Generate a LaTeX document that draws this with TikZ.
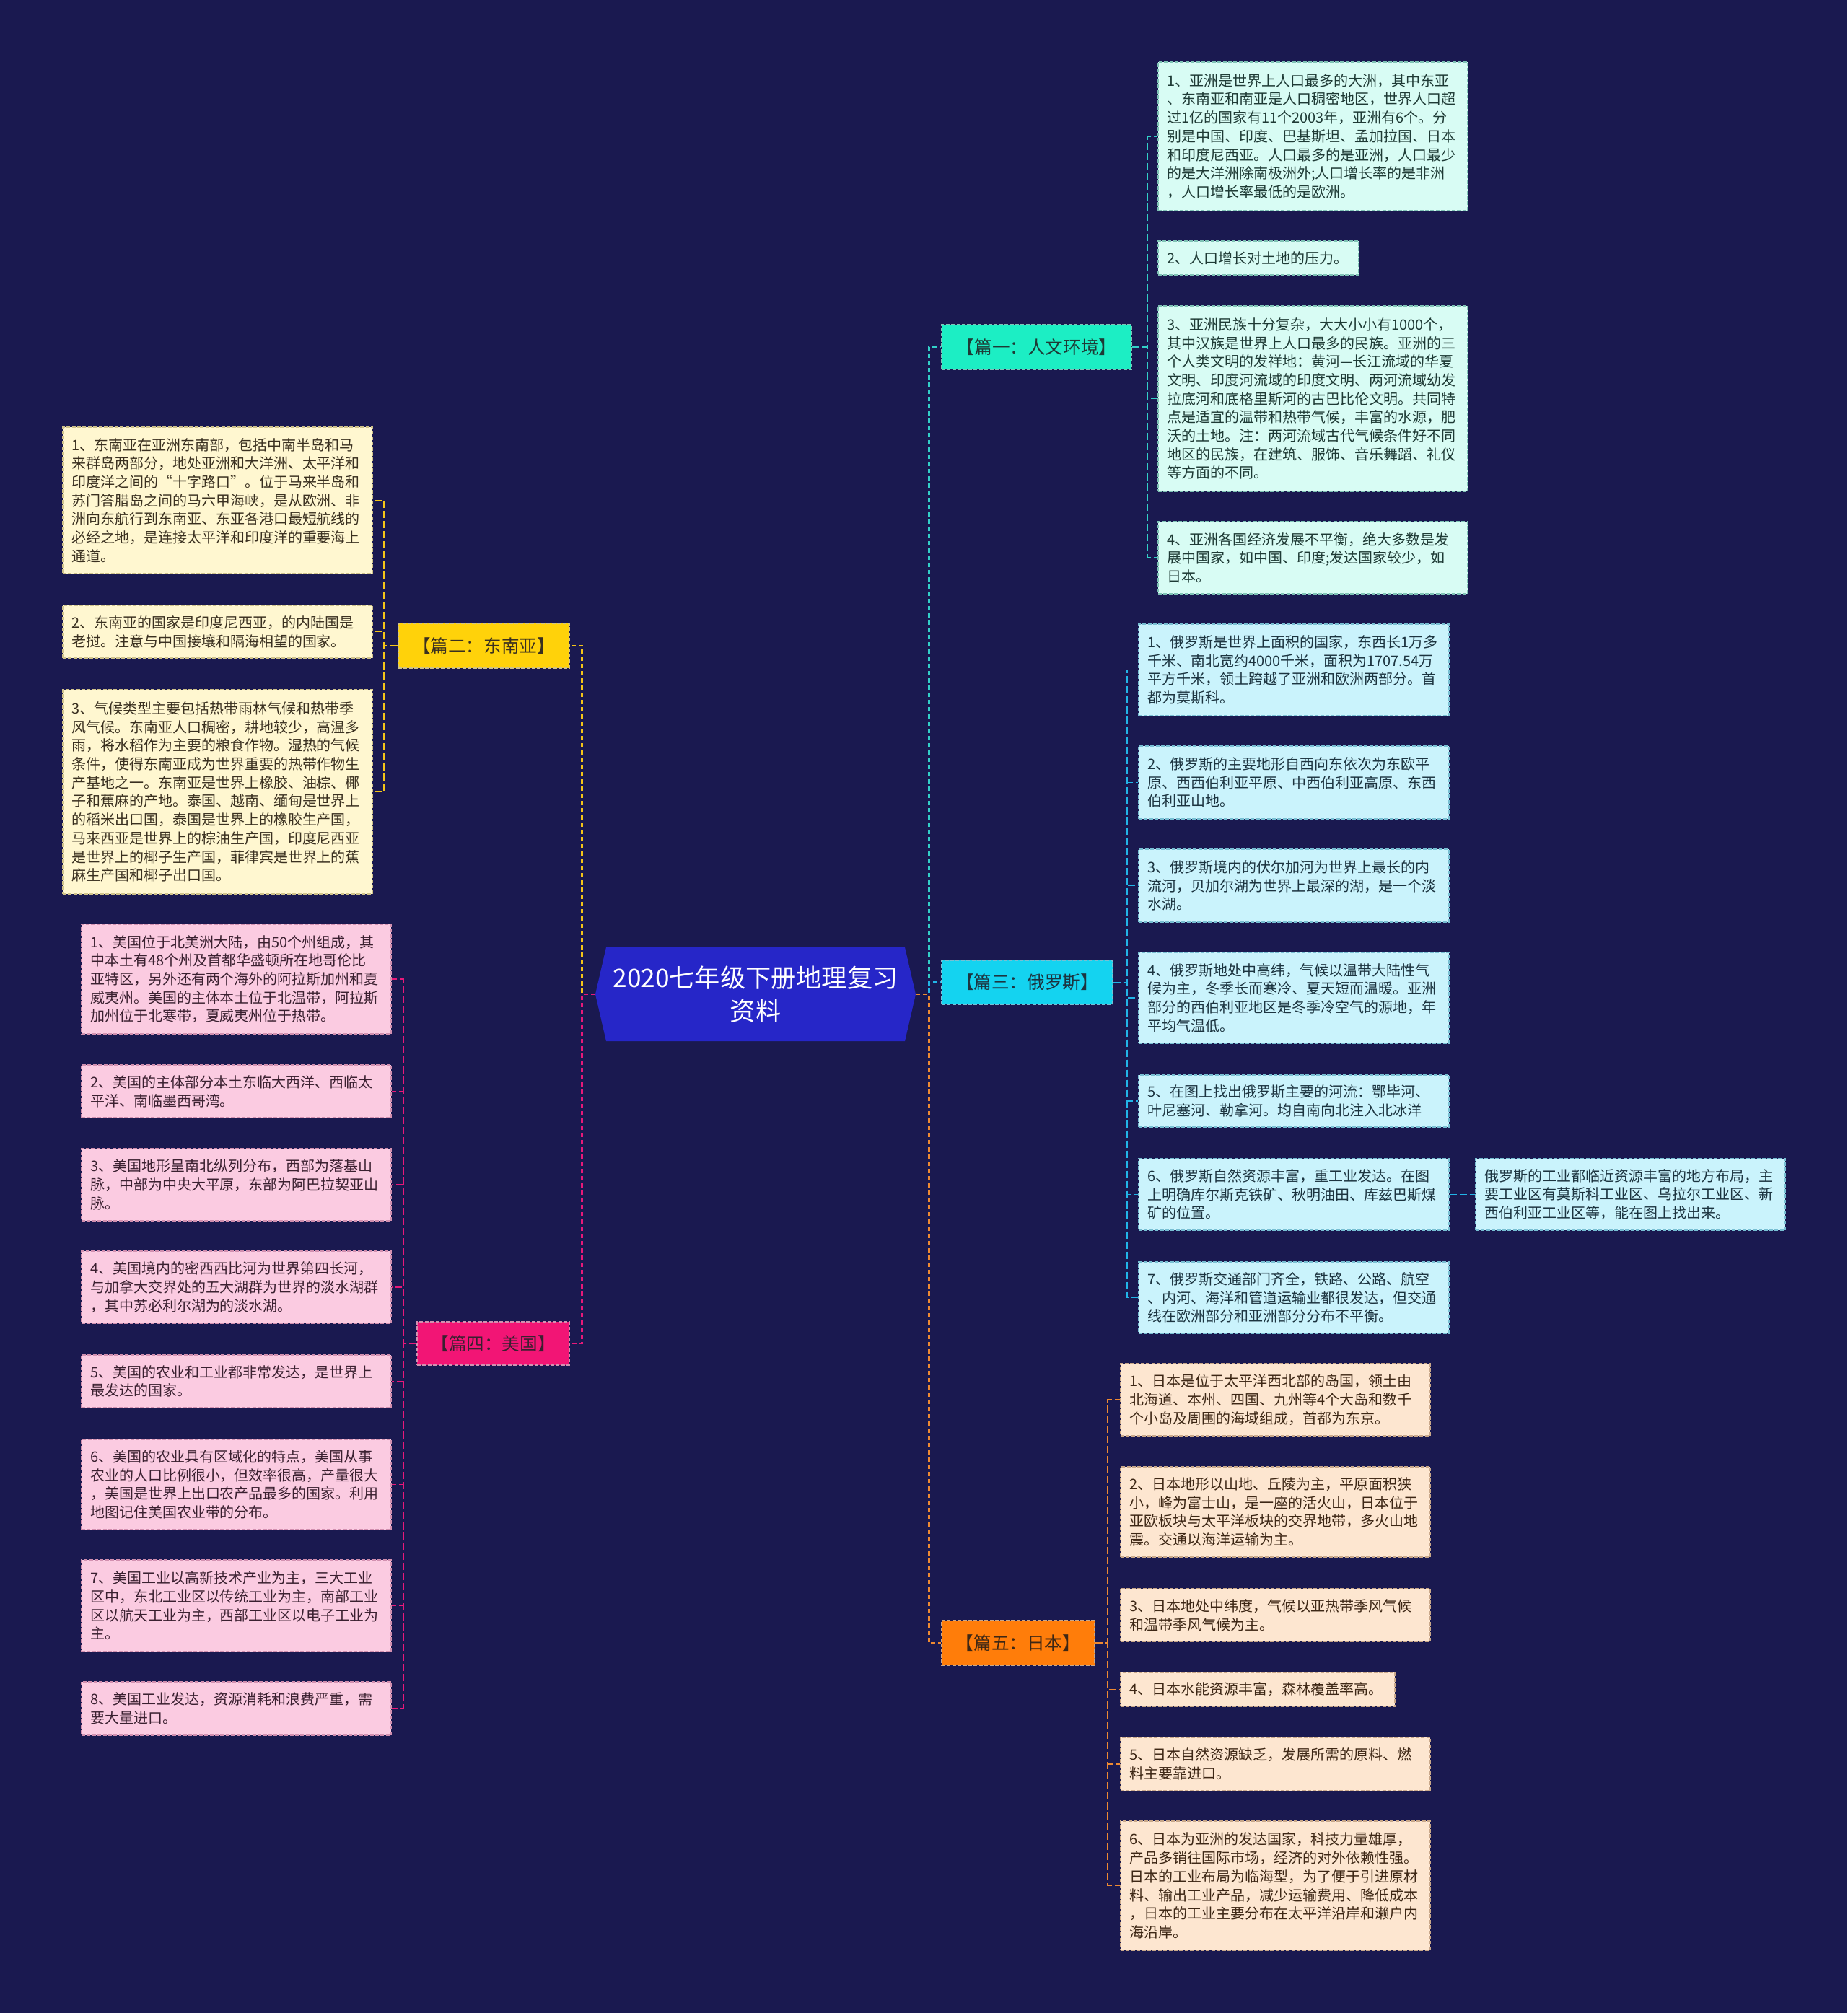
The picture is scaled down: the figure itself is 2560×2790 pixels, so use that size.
\documentclass[tikz,border=0pt]{standalone}
\usepackage{fontspec}
\newfontfamily\cjk{Noto Sans CJK SC}
\definecolor{bgc}{HTML}{1A1950}
\definecolor{ctrF}{HTML}{2626C8}
% branch 1 mint
\definecolor{aB}{HTML}{1CEEC4}\definecolor{aL}{HTML}{D8FCF4}\definecolor{aD}{HTML}{7FC2B5}\definecolor{aT}{HTML}{1E3A35}\definecolor{aC}{HTML}{33D0C8}
% branch 3 cyan
\definecolor{cB}{HTML}{14D3F0}\definecolor{cL}{HTML}{CAF3FC}\definecolor{cD}{HTML}{78BFD3}\definecolor{cT}{HTML}{1C3440}\definecolor{cC}{HTML}{22B5E8}
% branch 5 orange
\definecolor{oB}{HTML}{FF7D0A}\definecolor{oL}{HTML}{FDE6D0}\definecolor{oD}{HTML}{C9A88A}\definecolor{oT}{HTML}{3D2715}\definecolor{oC}{HTML}{EE8A32}
% branch 2 yellow
\definecolor{yB}{HTML}{FFD20A}\definecolor{yL}{HTML}{FFF7D0}\definecolor{yD}{HTML}{CFC28A}\definecolor{yT}{HTML}{3A3020}\definecolor{yC}{HTML}{F5C518}
% branch 4 pink
\definecolor{pB}{HTML}{F21575}\definecolor{pL}{HTML}{FBCBE1}\definecolor{pD}{HTML}{D290B0}\definecolor{pT}{HTML}{3A2030}\definecolor{pC}{HTML}{E8197A}
\newcommand\leafbox[7]{%
 \pgfmathsetmacro\LBw{(#5-#3)*0.5}%
 \pgfmathsetmacro\LBh{(#6-#4)*0.5}%
 \pgfmathsetmacro\LBt{(#5-#3-24)*0.5}%
 \pgfmathsetmacro\LBx{(#3+#5)/2}%
 \pgfmathsetmacro\LBy{(#4+#6)/2}%
 \node[#2, minimum width=\LBw pt, minimum height=\LBh pt, text width=\LBt pt] (#1) at (\LBx,\LBy) {#7};%
}
\tikzset{
 leaf/.style={draw, line width=0.9pt, dash pattern=on 2.5pt off 1.2pt, align=left, inner xsep=6pt, inner ysep=0pt, font=\cjk\fontsize{10}{12.85}\selectfont},
 brch/.style={draw, line width=0.9pt, dash pattern=on 2.5pt off 1.2pt, align=center, inner xsep=6pt, inner ysep=0pt, font=\cjk\fontsize{12.3}{14}\selectfont},
 sA/.style={fill=aL, draw=aD, text=aT},
 sC/.style={fill=cL, draw=cD, text=cT},
 sO/.style={fill=oL, draw=oD, text=oT},
 sY/.style={fill=yL, draw=yD, text=yT},
 sP/.style={fill=pL, draw=pD, text=pT},
 trunk/.style={line width=1.4pt, dash pattern=on 3pt off 2pt},
 twig/.style={line width=0.9pt, dash pattern=on 5pt off 2pt},
}
\begin{document}
\begin{tikzpicture}[x=0.5pt,y=-0.5pt]
\fill[bgc] (0,0) rectangle (2560,2790);
\useasboundingbox (0,0) rectangle (2560,2790);

% centre hexagon
\fill[ctrF] (825,1378) -- (840,1313) -- (1254,1313) -- (1269,1378) -- (1254,1443) -- (840,1443) -- cycle;
\node[minimum width=222pt, minimum height=65pt, inner sep=0pt, text=white, align=center,
  font=\cjk\fontsize{17.6}{23}\selectfont] (ctr) at (1047,1378) {2020七年级下册地理复习\\资料};

% branches
\leafbox{b1}{brch, fill=aB, draw=aD, text=aT}{1305}{450}{1568}{512}{【篇一：人文环境】}
\leafbox{b3}{brch, fill=cB, draw=cD, text=cT}{1305}{1331}{1542}{1392}{【篇三：俄罗斯】}
\leafbox{b5}{brch, fill=oB, draw=oD, text=oT}{1305}{2246}{1517}{2308}{【篇五：日本】}
\leafbox{b2}{brch, fill=yB, draw=yD, text=yT}{552}{864}{789}{926}{【篇二：东南亚】}
\leafbox{b4}{brch, fill=pB, draw=pD, text=pT}{578}{1832}{789}{1892}{【篇四：美国】}

% branch 1 leaves
\leafbox{a1}{leaf,sA}{1605}{86}{2034}{292}{1、亚洲是世界上人口最多的大洲，其中东亚\\
、东南亚和南亚是人口稠密地区，世界人口超\\
过1亿的国家有11个2003年，亚洲有6个。分\\
别是中国、印度、巴基斯坦、孟加拉国、日本\\
和印度尼西亚。人口最多的是亚洲，人口最少\\
的是大洋洲除南极洲外;人口增长率的是非洲\\
，人口增长率最低的是欧洲。}
\leafbox{a2}{leaf,sA}{1605}{334}{1883}{381}{2、人口增长对土地的压力。}
\leafbox{a3}{leaf,sA}{1605}{424}{2034}{681}{3、亚洲民族十分复杂，大大小小有1000个，\\
其中汉族是世界上人口最多的民族。亚洲的三\\
个人类文明的发祥地：黄河—长江流域的华夏\\
文明、印度河流域的印度文明、两河流域幼发\\
拉底河和底格里斯河的古巴比伦文明。共同特\\
点是适宜的温带和热带气候，丰富的水源，肥\\
沃的土地。注：两河流域古代气候条件好不同\\
地区的民族，在建筑、服饰、音乐舞蹈、礼仪\\
等方面的不同。}
\leafbox{a4}{leaf,sA}{1605}{723}{2034}{823}{4、亚洲各国经济发展不平衡，绝大多数是发\\
展中国家，如中国、印度;发达国家较少，如\\
日本。}

% branch 3 leaves
\leafbox{c1}{leaf,sC}{1578}{865}{2008}{992}{1、俄罗斯是世界上面积的国家，东西长1万多\\
千米、南北宽约4000千米，面积为1707.54万\\
平方千米，领土跨越了亚洲和欧洲两部分。首\\
都为莫斯科。}
\leafbox{c2}{leaf,sC}{1578}{1034}{2008}{1135}{2、俄罗斯的主要地形自西向东依次为东欧平\\
原、西西伯利亚平原、中西伯利亚高原、东西\\
伯利亚山地。}
\leafbox{c3}{leaf,sC}{1578}{1177}{2008}{1278}{3、俄罗斯境内的伏尔加河为世界上最长的内\\
流河，贝加尔湖为世界上最深的湖，是一个淡\\
水湖。}
\leafbox{c4}{leaf,sC}{1578}{1320}{2008}{1446}{4、俄罗斯地处中高纬，气候以温带大陆性气\\
候为主，冬季长而寒冷、夏天短而温暖。亚洲\\
部分的西伯利亚地区是冬季冷空气的源地，年\\
平均气温低。}
\leafbox{c5}{leaf,sC}{1578}{1490}{2008}{1562}{5、在图上找出俄罗斯主要的河流：鄂毕河、\\
叶尼塞河、勒拿河。均自南向北注入北冰洋}
\leafbox{c6}{leaf,sC}{1578}{1606}{2008}{1705}{6、俄罗斯自然资源丰富，重工业发达。在图\\
上明确库尔斯克铁矿、秋明油田、库兹巴斯煤\\
矿的位置。}
\leafbox{c6s}{leaf,sC}{2045}{1606}{2474}{1705}{俄罗斯的工业都临近资源丰富的地方布局，主\\
要工业区有莫斯科工业区、乌拉尔工业区、新\\
西伯利亚工业区等，能在图上找出来。}
\leafbox{c7}{leaf,sC}{1578}{1749}{2008}{1848}{7、俄罗斯交通部门齐全，铁路、公路、航空\\
、内河、海洋和管道运输业都很发达，但交通\\
线在欧洲部分和亚洲部分分布不平衡。}

% branch 5 leaves
\leafbox{o1}{leaf,sO}{1553}{1890}{1982}{1990}{1、日本是位于太平洋西北部的岛国，领土由\\
北海道、本州、四国、九州等4个大岛和数千\\
个小岛及周围的海域组成，首都为东京。}
\leafbox{o2}{leaf,sO}{1553}{2033}{1982}{2158}{2、日本地形以山地、丘陵为主，平原面积狭\\
小，峰为富士山，是一座的活火山，日本位于\\
亚欧板块与太平洋板块的交界地带，多火山地\\
震。交通以海洋运输为主。}
\leafbox{o3}{leaf,sO}{1553}{2202}{1982}{2275}{3、日本地处中纬度，气候以亚热带季风气候\\
和温带季风气候为主。}
\leafbox{o4}{leaf,sO}{1553}{2318}{1933}{2365}{4、日本水能资源丰富，森林覆盖率高。}
\leafbox{o5}{leaf,sO}{1553}{2408}{1982}{2482}{5、日本自然资源缺乏，发展所需的原料、燃\\
料主要靠进口。}
\leafbox{o6}{leaf,sO}{1553}{2524}{1982}{2703}{6、日本为亚洲的发达国家，科技力量雄厚，\\
产品多销往国际市场，经济的对外依赖性强。\\
日本的工业布局为临海型，为了便于引进原材\\
料、输出工业产品，减少运输费用、降低成本\\
，日本的工业主要分布在太平洋沿岸和濑户内\\
海沿岸。}

% branch 2 leaves
\leafbox{y1}{leaf,sY}{87}{592}{516}{795}{1、东南亚在亚洲东南部，包括中南半岛和马\\
来群岛两部分，地处亚洲和大洋洲、太平洋和\\
印度洋之间的“十字路口”。位于马来半岛和\\
苏门答腊岛之间的马六甲海峡，是从欧洲、非\\
洲向东航行到东南亚、东亚各港口最短航线的\\
必经之地，是连接太平洋和印度洋的重要海上\\
通道。}
\leafbox{y2}{leaf,sY}{87}{839}{516}{912}{2、东南亚的国家是印度尼西亚，的内陆国是\\
老挝。注意与中国接壤和隔海相望的国家。}
\leafbox{y3}{leaf,sY}{87}{956}{516}{1239}{3、气候类型主要包括热带雨林气候和热带季\\
风气候。东南亚人口稠密，耕地较少，高温多\\
雨，将水稻作为主要的粮食作物。湿热的气候\\
条件，使得东南亚成为世界重要的热带作物生\\
产基地之一。东南亚是世界上橡胶、油棕、椰\\
子和蕉麻的产地。泰国、越南、缅甸是世界上\\
的稻米出口国，泰国是世界上的橡胶生产国，\\
马来西亚是世界上的棕油生产国，印度尼西亚\\
是世界上的椰子生产国，菲律宾是世界上的蕉\\
麻生产国和椰子出口国。}

% branch 4 leaves
\leafbox{p1}{leaf,sP}{113}{1281}{542}{1433}{1、美国位于北美洲大陆，由50个州组成，其\\
中本土有48个州及首都华盛顿所在地哥伦比\\
亚特区，另外还有两个海外的阿拉斯加州和夏\\
威夷州。美国的主体本土位于北温带，阿拉斯\\
加州位于北寒带，夏威夷州位于热带。}
\leafbox{p2}{leaf,sP}{113}{1476}{542}{1549}{2、美国的主体部分本土东临大西洋、西临太\\
平洋、南临墨西哥湾。}
\leafbox{p3}{leaf,sP}{113}{1592}{542}{1692}{3、美国地形呈南北纵列分布，西部为落基山\\
脉，中部为中央大平原，东部为阿巴拉契亚山\\
脉。}
\leafbox{p4}{leaf,sP}{113}{1734}{542}{1834}{4、美国境内的密西西比河为世界第四长河，\\
与加拿大交界处的五大湖群为世界的淡水湖群\\
，其中苏必利尔湖为的淡水湖。}
\leafbox{p5}{leaf,sP}{113}{1878}{542}{1951}{5、美国的农业和工业都非常发达，是世界上\\
最发达的国家。}
\leafbox{p6}{leaf,sP}{113}{1995}{542}{2120}{6、美国的农业具有区域化的特点，美国从事\\
农业的人口比例很小，但效率很高，产量很大\\
，美国是世界上出口农产品最多的国家。利用\\
地图记住美国农业带的分布。}
\leafbox{p7}{leaf,sP}{113}{2162}{542}{2289}{7、美国工业以高新技术产业为主，三大工业\\
区中，东北工业区以传统工业为主，南部工业\\
区以航天工业为主，西部工业区以电子工业为\\
主。}
\leafbox{p8}{leaf,sP}{113}{2331}{542}{2405}{8、美国工业发达，资源消耗和浪费严重，需\\
要大量进口。}

% trunk connectors
\draw[trunk, aC] (ctr.east) -- ++(18,0) |- (b1.west);
\draw[trunk, cC] (ctr.east) -- ++(18,0) |- (b3.west);
\draw[trunk, oC] (ctr.east) -- ++(18,0) |- (b5.west);
\draw[trunk, yC] (ctr.west) -- ++(-18,0) |- (b2.east);
\draw[trunk, pC] (ctr.west) -- ++(-18,0) |- (b4.east);

% twigs
\foreach \l in {a1,a2,a3,a4} \draw[twig, aC] (b1.east) -- ++(21,0) |- (\l.west);
\foreach \l in {c1,c2,c3,c4,c5,c6,c7} \draw[twig, cC] (b3.east) -- ++(19,0) |- (\l.west);
\draw[twig, cC] (c6.east) -- (c6s.west);
\foreach \l in {o1,o2,o3,o4,o5,o6} \draw[twig, oC] (b5.east) -- ++(17,0) |- (\l.west);
\foreach \l in {y1,y2,y3} \draw[twig, yC] (b2.west) -- ++(-19,0) |- (\l.east);
\foreach \l in {p1,p2,p3,p4,p5,p6,p7,p8} \draw[twig, pC] (b4.west) -- ++(-18,0) |- (\l.east);
\end{tikzpicture}
\end{document}
